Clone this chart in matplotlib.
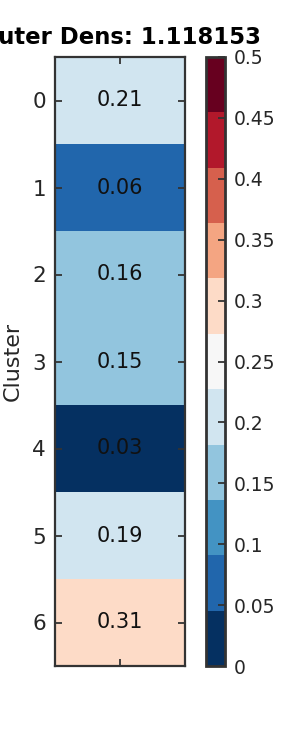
import numpy as np
import matplotlib
matplotlib.use("Agg")
import matplotlib.pyplot as plt
from matplotlib.colors import Normalize

# Data
clusters = ["0", "1", "2", "3", "4", "5", "6"]
values = [0.21, 0.06, 0.16, 0.15, 0.03, 0.19, 0.31]
cbar_ticks = [0, 0.05, 0.1, 0.15, 0.2, 0.25, 0.3, 0.35, 0.4, 0.45, 0.5]
title = "Outer Dens: 1.118153"

plt.rcParams['font.family'] = ['DejaVu Sans']
W, H = 300, 750
fig = plt.figure(figsize=(W / 100, H / 100), dpi=100)

def frac(x0, y0, x1, y1):
    return [x0 / W, 1 - y1 / H, (x1 - x0) / W, (y1 - y0) / H]

ax = fig.add_axes(frac(54.5, 57, 185, 666))
cax = fig.add_axes(frac(206, 57, 225, 666))

cmap = plt.get_cmap('RdBu_r', 11)
norm = Normalize(vmin=0, vmax=0.5)
data = np.array(values).reshape(-1, 1)
mesh = ax.pcolormesh(np.arange(2), np.arange(len(values) + 1), data, cmap=cmap, norm=norm)
ax.set_xlim(0, 1)
ax.set_ylim(len(values), 0)

for i, v in enumerate(values):
    ax.text(0.5, i + 0.5, f"{v:.2f}", ha='center', va='center', fontsize=15, color='#111111')

tick_color = '#262626'
spine_color = '#333333'
ax.set_yticks(np.arange(len(values)) + 0.5)
ax.set_yticklabels(clusters, fontsize=15.5, color=tick_color)
ax.set_xticks([0.5])
ax.set_xticklabels([""])
ax.tick_params(direction='in', left=True, right=True, top=True, bottom=True,
               length=5, width=1.3, color=spine_color, pad=6)
for s in ax.spines.values():
    s.set_color(spine_color)
    s.set_linewidth(1.6)
ax.set_ylabel("Cluster", fontsize=16, color=tick_color, labelpad=7)
ax.set_title(title, fontsize=16.4, fontweight='bold', pad=9)

cb = fig.colorbar(mesh, cax=cax, ticks=cbar_ticks)
cb.ax.set_yticklabels([f"{t:g}" for t in cbar_ticks], fontsize=13.5, color=tick_color)
cb.ax.tick_params(direction='in', length=5, width=1.3, color=spine_color, pad=6)
cb.outline.set_edgecolor(spine_color)
cb.outline.set_linewidth(2)

fig.savefig("out.png", dpi=100)
